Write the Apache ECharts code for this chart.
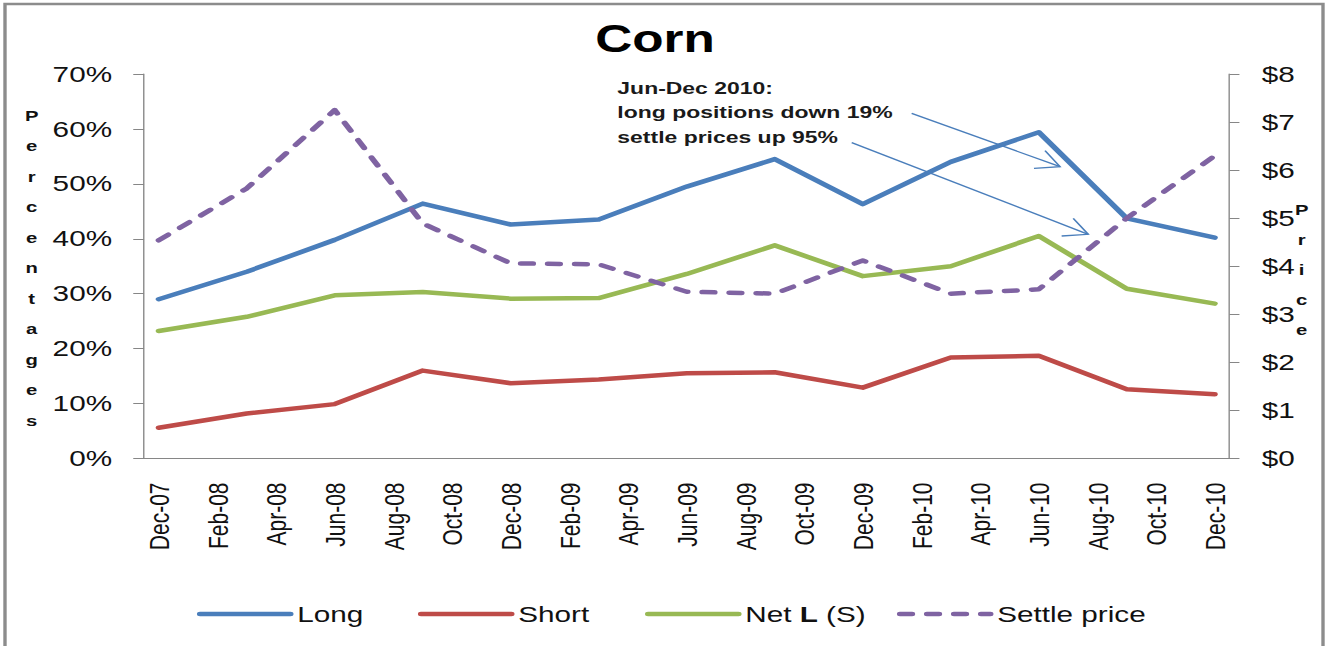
<!DOCTYPE html>
<html>
<head>
<meta charset="utf-8">
<title>Corn</title>
<script src="https://cdn.jsdelivr.net/npm/echarts@6/dist/echarts.min.js"></script>
<style>
  html, body { margin: 0; padding: 0; background: #fff; overflow: hidden; }
  /* the original picture is stretched sideways, so the chart is drawn narrow and widened */
  #chart { width: 982px; height: 646px; transform: scaleX(1.35); transform-origin: 0 0; }
</style>
</head>
<body>
<div id="chart"></div>
<script>
const months = [
  'Dec-07',
  'Jan-08', 'Feb-08', 'Mar-08', 'Apr-08', 'May-08', 'Jun-08', 'Jul-08', 'Aug-08', 'Sep-08', 'Oct-08', 'Nov-08', 'Dec-08',
  'Jan-09', 'Feb-09', 'Mar-09', 'Apr-09', 'May-09', 'Jun-09', 'Jul-09', 'Aug-09', 'Sep-09', 'Oct-09', 'Nov-09', 'Dec-09',
  'Jan-10', 'Feb-10', 'Mar-10', 'Apr-10', 'May-10', 'Jun-10', 'Jul-10', 'Aug-10', 'Sep-10', 'Oct-10', 'Nov-10', 'Dec-10'
];
const quarters = ['Dec-07', 'Mar-08', 'Jun-08', 'Sep-08', 'Dec-08', 'Mar-09', 'Jun-09', 'Sep-09', 'Dec-09', 'Mar-10', 'Jun-10', 'Sep-10', 'Dec-10'];
const longPct = [29.0, 34.0, 39.8, 46.4, 42.6, 43.5, 49.5, 54.5, 46.3, 54.0, 59.4, 43.7, 40.2];
const shortPct = [5.6, 8.2, 9.9, 16.0, 13.7, 14.4, 15.5, 15.7, 12.9, 18.4, 18.7, 12.6, 11.7];
const netPct = [23.2, 25.8, 29.7, 30.3, 29.1, 29.2, 33.6, 38.8, 33.2, 35.0, 40.5, 30.9, 28.2];
const settlePrice = [4.54, 5.62, 7.25, 4.89, 4.06, 4.04, 3.47, 3.43, 4.12, 3.43, 3.52, 5.00, 6.30];
const seriesNames = ['Long', 'Short', 'Net L (S)', 'Settle price'];
const note = 'Jun-Dec 2010:\nlong positions down 19%\nsettle prices up 95%';

const font = '"Liberation Sans", Arial, sans-serif';
const axisGray = '#868686';
const lineWidth = 4.5;

function pairs(values) {
  return quarters.map((q, i) => [q, values[i]]);
}

function legendAt(name, left) {
  return {
    data: [name],
    left: left,
    top: 603,
    padding: 0,
    itemWidth: 67,
    itemHeight: 14,
    itemStyle: { opacity: 0 },
    lineStyle: { width: lineWidth, cap: 'round' },
    formatter: n => n === 'Net L (S)' ? 'Net {b|L} (S)' : n,
    textStyle: {
      fontFamily: font,
      fontSize: 22,
      color: '#111',
      rich: { b: { fontFamily: font, fontSize: 22, fontWeight: 'bold', color: '#111' } }
    }
  };
}

let chart = echarts.init(document.getElementById('chart'), null, { renderer: 'svg' });
let option = {
  animation: false,
  color: ['#4a7ebb', '#be4b48', '#98b954', '#7f63a2'],
  grid: {
    left: 106.7,
    right: 71.3,
    top: 74,
    bottom: 187.5,
    containLabel: false,
    outerBoundsMode: 'none'
  },
  legend: [
    legendAt(seriesNames[0], 145.9),
    legendAt(seriesNames[1], 309.6),
    legendAt(seriesNames[2], 477.8),
    legendAt(seriesNames[3], 664.4)
  ],
  xAxis: {
    type: 'category',
    data: months,
    boundaryGap: true,
    axisLine: { lineStyle: { color: axisGray, width: 1 } },
    axisTick: { interval: 1, length: 7.7, lineStyle: { color: axisGray } },
    axisLabel: {
      interval: 1,
      rotate: 90,
      margin: 24,
      fontFamily: font,
      fontSize: 21,
      color: '#111'
    },
    splitLine: { show: false }
  },
  yAxis: [
    {
      type: 'value',
      min: 0,
      max: 70,
      interval: 10,
      axisLine: { show: true, lineStyle: { color: axisGray, width: 1 } },
      axisTick: { show: true, length: 8, lineStyle: { color: axisGray } },
      axisLabel: { formatter: '{value}%', margin: 23.7, fontFamily: font, fontSize: 22, color: '#111' },
      splitLine: { show: false }
    },
    {
      type: 'value',
      min: 0,
      max: 8,
      interval: 1,
      position: 'right',
      axisLine: { show: true, lineStyle: { color: axisGray, width: 1 } },
      axisTick: { show: true, length: 7.4, lineStyle: { color: axisGray } },
      axisLabel: { formatter: '${value}', margin: 23.9, fontFamily: font, fontSize: 22, color: '#111' },
      splitLine: { show: false }
    }
  ],
  series: [
    {
      name: seriesNames[0],
      type: 'line',
      symbol: 'none',
      data: pairs(longPct),
      lineStyle: { width: lineWidth, join: 'round', cap: 'round' }
    },
    {
      name: seriesNames[1],
      type: 'line',
      symbol: 'none',
      data: pairs(shortPct),
      lineStyle: { width: lineWidth, join: 'round', cap: 'round' }
    },
    {
      name: seriesNames[2],
      type: 'line',
      symbol: 'none',
      data: pairs(netPct),
      lineStyle: { width: lineWidth, join: 'round', cap: 'round' }
    },
    {
      name: seriesNames[3],
      type: 'line',
      symbol: 'none',
      yAxisIndex: 1,
      data: pairs(settlePrice),
      lineStyle: { width: lineWidth, type: [9, 11], join: 'round', cap: 'round' }
    }
  ],
  graphic: [
    {
      type: 'rect',
      silent: true,
      shape: { x: 3.7, y: 4, width: 976.3, height: 700 },
      style: { fill: 'none', stroke: '#8c8c8c', lineWidth: 2.5 }
    },
    {
      type: 'text',
      x: 485.2,
      y: 39,
      style: { text: 'Corn', font: 'bold 38px ' + font, fill: '#000', align: 'center', verticalAlign: 'middle' }
    },
    {
      type: 'text',
      x: 23.5,
      y: 268,
      style: {
        text: 'Percentages'.split('').join('\n'),
        font: 'bold 15px ' + font,
        lineHeight: 30.5,
        fill: '#111',
        align: 'center',
        verticalAlign: 'middle'
      }
    },
    {
      type: 'text',
      x: 964.2,
      y: 270,
      style: {
        text: 'Price'.split('').join('\n'),
        font: 'bold 15px ' + font,
        lineHeight: 30,
        fill: '#111',
        align: 'center',
        verticalAlign: 'middle'
      }
    },
    {
      type: 'text',
      x: 457.3,
      y: 112.6,
      style: {
        text: note,
        font: 'bold 17px ' + font,
        lineHeight: 25,
        fill: '#1a1a1a',
        align: 'left',
        verticalAlign: 'middle'
      }
    },
    // arrows from the note
    {
      type: 'polyline',
      silent: true,
      shape: { points: [[675.3, 113.3], [785.2, 166.7]] },
      style: { stroke: '#4a7ebb', lineWidth: 1.3, fill: 'none' }
    },
    {
      type: 'polyline',
      silent: true,
      shape: { points: [[774.1, 150.7], [785.2, 166.7], [765.9, 168.3]] },
      style: { stroke: '#4a7ebb', lineWidth: 1.3, fill: 'none' }
    },
    {
      type: 'polyline',
      silent: true,
      shape: { points: [[630.9, 142.7], [806.1, 234.3]] },
      style: { stroke: '#4a7ebb', lineWidth: 1.3, fill: 'none' }
    },
    {
      type: 'polyline',
      silent: true,
      shape: { points: [[795.0, 218.3], [806.1, 234.3], [786.4, 236]] },
      style: { stroke: '#4a7ebb', lineWidth: 1.3, fill: 'none' }
    }
  ]
};
chart.setOption(option);
</script>
</body>
</html>
